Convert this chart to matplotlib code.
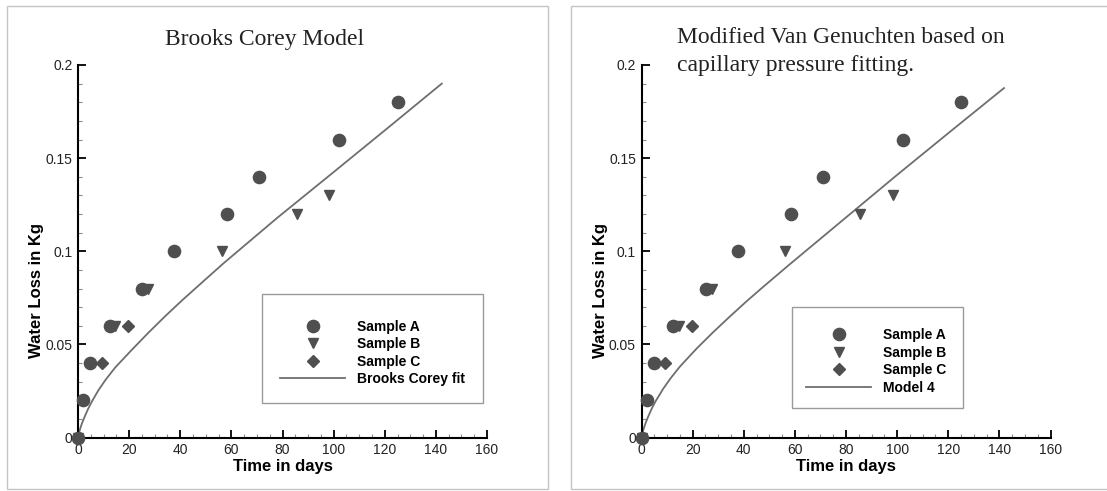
import matplotlib
matplotlib.use("Agg")
import matplotlib.pyplot as plt
from matplotlib.patches import Rectangle
from matplotlib.ticker import MultipleLocator, FixedLocator, FixedFormatter

# ---------------- data ----------------
sample_a_t = [0, 2, 4.7, 12.5, 25.2, 37.6, 58.4, 70.9, 102.2, 125.1]
sample_a_v = [0, 0.02, 0.04, 0.06, 0.08, 0.10, 0.12, 0.14, 0.16, 0.18]

sample_b_t = [0, 14.5, 27.5, 56.2, 85.6, 98.2]
sample_b_v = [0, 0.06, 0.08, 0.10, 0.12, 0.13]

sample_c_t = [0, 9.3, 19.7]
sample_c_v = [0, 0.04, 0.06]

bc_fit_t = [0, 0.3, 0.8, 1.6, 2.7, 4.0, 5.4, 7.9, 10.8, 14.5, 21.0, 27.5, 34.0, 40.6,
            47.1, 56.9, 78.0, 100.0, 121.0, 142.3]
bc_fit_v = [0, 0.002, 0.0045, 0.0078, 0.0115, 0.0155, 0.0192, 0.0252, 0.031, 0.0375,
            0.047, 0.0562, 0.065, 0.0735, 0.0815, 0.0935, 0.118, 0.1425, 0.166, 0.190]

m4_fit_t = [0, 0.3, 0.8, 1.6, 2.7, 4.0, 5.4, 8.5, 11.5, 15.1, 21.6, 28.0, 34.6, 41.0,
            47.7, 58.0, 79.0, 100.0, 121.0, 141.8]
m4_fit_v = [0, 0.002, 0.0045, 0.0078, 0.0115, 0.0155, 0.0192, 0.0262, 0.032, 0.0382,
            0.0478, 0.0565, 0.065, 0.073, 0.081, 0.093, 0.117, 0.141, 0.1645, 0.1876]

x_ticks = [0, 20, 40, 60, 80, 100, 120, 140, 160]
x_tick_labels = ["0", "20", "40", "60", "80", "100", "120", "140", "160"]
y_ticks = [0, 0.05, 0.10, 0.15, 0.20]
y_tick_labels = ["0", "0.05", "0.1", "0.15", "0.2"]

titles = ["Brooks Corey Model", "Modified Van Genuchten based on\ncapillary pressure fitting."]
fit_labels = ["Brooks Corey fit", "Model 4"]
sample_labels = ["Sample A", "Sample B", "Sample C"]
x_label = "Time in days"
y_label = "Water Loss in Kg"

# ---------------- style ----------------
W, H = 1107, 491
SANS = "Liberation Sans"
SERIF = "Liberation Serif"
MARK = "#4f4f4f"
LINE = "#6e6e6e"

fig = plt.figure(figsize=(W / 100, H / 100), dpi=100)
fig.patch.set_facecolor("white")


def fx(px):
    return px / W


def fy(py):
    return 1 - py / H


# panel borders
fig.add_artist(Rectangle((fx(7), fy(489)), fx(548) - fx(7), fy(6) - fy(489),
                         transform=fig.transFigure, fill=False, ec="#c4c4c4", lw=1.0))
fig.add_artist(Rectangle((fx(571), fy(489)), fx(1120) - fx(571), fy(6) - fy(489),
                         transform=fig.transFigure, fill=False, ec="#c4c4c4", lw=1.0))

axes_left_px = [78, 641.5]
legend_boxes = [(262, 294, 483, 403), (791.5, 307, 963, 408)]
legend_anchor = [(280, 352.9), (806, 361.5)]
fits = [(bc_fit_t, bc_fit_v), (m4_fit_t, m4_fit_v)]

for i in range(2):
    ax = fig.add_axes([fx(axes_left_px[i]), fy(437.5), 409 / W, 372.5 / H])
    ft, fv = fits[i]
    fit_line, = ax.plot(ft, fv, color=LINE, lw=1.3, zorder=2, clip_on=False)
    hb, = ax.plot(sample_b_t, sample_b_v, ls="none", marker="v", ms=7.5, color=MARK,
                  mec=MARK, zorder=3, clip_on=False)
    hc, = ax.plot(sample_c_t, sample_c_v, ls="none", marker="D", ms=6.5, color=MARK,
                  mec=MARK, zorder=3, clip_on=False)
    ha, = ax.plot(sample_a_t, sample_a_v, ls="none", marker="o", ms=8.8, color=MARK,
                  mec=MARK, zorder=4, clip_on=False)

    ax.set_xlim(0, 160)
    ax.set_ylim(0, 0.2)
    ax.xaxis.set_major_locator(FixedLocator(x_ticks))
    ax.xaxis.set_major_formatter(FixedFormatter(x_tick_labels))
    ax.yaxis.set_major_locator(FixedLocator(y_ticks))
    ax.yaxis.set_major_formatter(FixedFormatter(y_tick_labels))
    ax.xaxis.set_minor_locator(MultipleLocator(5))
    ax.yaxis.set_minor_locator(MultipleLocator(0.01))

    for s in ["top", "right"]:
        ax.spines[s].set_visible(False)
    for s in ["left", "bottom"]:
        ax.spines[s].set_linewidth(1.5)
        ax.spines[s].set_color("black")
    ax.tick_params(which="major", direction="in", length=6, width=1.3, color="black",
                   labelsize=10, pad=4)
    ax.tick_params(which="minor", direction="in", length=3, width=0.8, color="#8a8a8a")
    for lab in ax.get_xticklabels() + ax.get_yticklabels():
        lab.set_family(SANS)
        lab.set_color("#222222")

    ax.set_xlabel(x_label, family=SANS, fontweight="bold", fontsize=12, labelpad=1.5)
    ax.set_ylabel(y_label, family=SANS, fontweight="bold", fontsize=12)
    ax.yaxis.set_label_coords(-34.0 / 409, (437.5 - 290) / 372.5)
    ax.set_facecolor("none")

    # legend
    x0, y0, x1, y1 = legend_boxes[i]
    fig.add_artist(Rectangle((fx(x0), fy(y1)), fx(x1) - fx(x0), fy(y0) - fy(y1),
                             transform=fig.transFigure, fill=True, fc="white",
                             ec="#9a9a9a", lw=1.0, zorder=5))
    lx, ly = legend_anchor[i]
    leg = fig.legend([ha, hb, hc, fit_line], sample_labels + [fit_labels[i]],
                     loc="center left", bbox_to_anchor=(fx(lx), fy(ly)),
                     bbox_transform=fig.transFigure, frameon=False,
                     borderpad=0, borderaxespad=0, handlelength=4.7,
                     handletextpad=0.85, labelspacing=0.25, numpoints=1,
                     prop={"family": SANS, "weight": "bold", "size": 10})
    leg.set_zorder(6)

# titles
fig.text(fx(265), fy(40), titles[0], family=SERIF, fontsize=17, ha="center", va="center",
         color="#222222")
fig.text(fx(677), fy(51.5), titles[1], family=SERIF, fontsize=17, ha="left", va="center",
         color="#222222", linespacing=1.47)

fig.savefig("out.png", dpi=100, facecolor="white")
